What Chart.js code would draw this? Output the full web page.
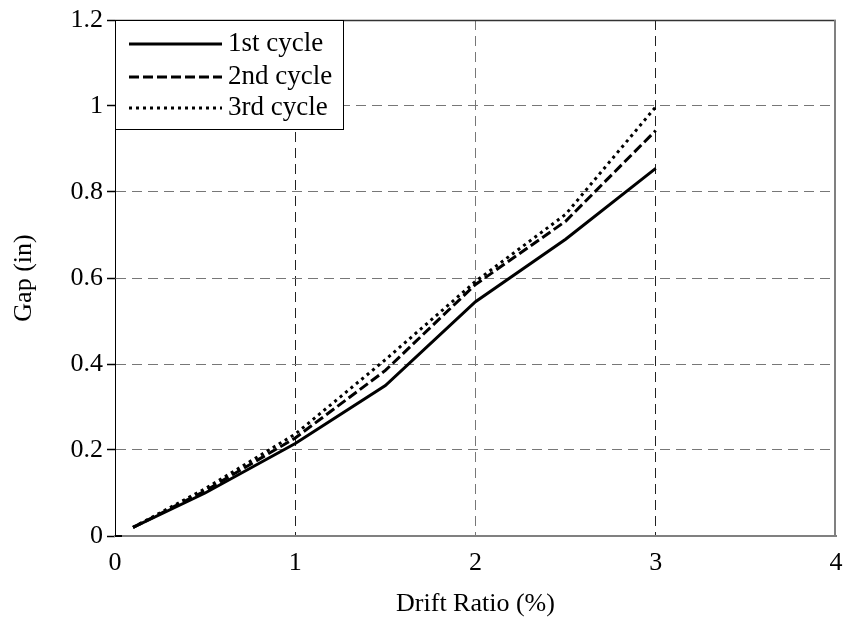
<!DOCTYPE html>
<html>
<head>
<meta charset="utf-8">
<script src="https://cdn.jsdelivr.net/npm/chart.js@4/dist/chart.umd.min.js"></script>
<style>
  html, body { margin: 0; padding: 0; background: #ffffff; }
  #c { display: block; }
</style>
</head>
<body>
<canvas id="c" width="846" height="636"></canvas>
<script>
// ---- data ----
const driftRatio = [0.1, 0.5, 1, 1.5, 2, 2.5, 3];
const cycle1 = [0.02, 0.100, 0.215, 0.350, 0.545, 0.690, 0.855];
const cycle2 = [0.02, 0.105, 0.228, 0.385, 0.585, 0.732, 0.943];
const cycle3 = [0.02, 0.110, 0.237, 0.410, 0.592, 0.748, 0.998];
const seriesNames = ['1st cycle', '2nd cycle', '3rd cycle'];
const xTicks = [0, 1, 2, 3, 4];
const yTicks = [0, 0.2, 0.4, 0.6, 0.8, 1, 1.2];
const yTickLabels = ['0', '0.2', '0.4', '0.6', '0.8', '1', '1.2'];
const xTitle = 'Drift Ratio (%)';
const yTitle = 'Gap (in)';

const FONT = 'Liberation Serif, Times New Roman, serif';
const toPts = (ys) => driftRatio.map((x, i) => ({ x: x, y: ys[i] }));

const dashes = [[], [10, 4], [3, 4]];
const seriesValues = [cycle1, cycle2, cycle3];

const datasets = seriesNames.map((name, i) => ({
  label: name,
  data: toPts(seriesValues[i]),
  borderColor: '#000',
  backgroundColor: '#000',
  borderWidth: 3,
  borderDash: dashes[i],
  borderCapStyle: 'butt',
  pointRadius: 0,
  tension: 0,
  fill: false
}));

const frameAndLegend = {
  id: 'frameAndLegend',
  afterDatasetsDraw(chart) {
    const ctx = chart.ctx;
    const a = chart.chartArea;
    ctx.save();
    // top border
    ctx.strokeStyle = '#333';
    ctx.lineWidth = 1.5;
    ctx.beginPath();
    ctx.moveTo(a.left, a.top + 0.5);
    ctx.lineTo(a.right, a.top + 0.5);
    ctx.stroke();
    // right border
    ctx.strokeStyle = '#808080';
    ctx.lineWidth = 2;
    ctx.beginPath();
    ctx.moveTo(a.right - 1, a.top);
    ctx.lineTo(a.right - 1, a.bottom);
    ctx.stroke();
    // short black tick into plot at y = 0
    const y0 = chart.scales.y.getPixelForValue(0);
    ctx.strokeStyle = '#000';
    ctx.lineWidth = 2;
    ctx.beginPath();
    ctx.moveTo(a.left, y0);
    ctx.lineTo(a.left + 7, y0);
    ctx.stroke();

    // legend box
    const bx = a.left, by = a.top, bw = 228, bh = 109;
    ctx.fillStyle = '#fff';
    ctx.fillRect(bx, by, bw, bh);
    ctx.strokeStyle = '#000';
    ctx.lineWidth = 1;
    ctx.strokeRect(bx + 0.5, by + 0.5, bw, bh);
    const rows = [44, 77, 108];
    chart.data.datasets.forEach((ds, i) => {
      const y = by + rows[i] - 20;
      ctx.strokeStyle = ds.borderColor;
      ctx.lineWidth = ds.borderWidth;
      ctx.setLineDash(ds.borderDash);
      ctx.lineCap = 'butt';
      ctx.beginPath();
      ctx.moveTo(bx + 14, y);
      ctx.lineTo(bx + 107, y);
      ctx.stroke();
      ctx.setLineDash([]);
      ctx.fillStyle = '#000';
      ctx.font = '27px ' + FONT;
      ctx.textAlign = 'left';
      ctx.textBaseline = 'middle';
      ctx.fillText(ds.label, bx + 113, y);
    });
    ctx.restore();
  }
};

new Chart(document.getElementById('c'), {
  type: 'line',
  data: { datasets: datasets },
  options: {
    responsive: false,
    animation: false,
    devicePixelRatio: 1,
    layout: { padding: { left: 0, top: 20, right: 10, bottom: 0 } },
    plugins: { legend: { display: false }, tooltip: { enabled: false } },
    scales: {
      x: {
        type: 'linear',
        min: xTicks[0],
        max: xTicks[xTicks.length - 1],
        afterBuildTicks: (s) => { s.ticks = xTicks.map(v => ({ value: v })); },
        afterFit: (s) => { s.height = 100; s.paddingLeft = 0; s.paddingRight = 0; },
        ticks: { color: '#000', font: { family: FONT, size: 26 }, padding: 12, maxRotation: 0,
                 callback: (v) => String(v) },
        grid: {
          drawTicks: false,
          lineWidth: 1,
          color: (c) => {
            const v = c.tick ? c.tick.value : null;
            if (v === xTicks[0] || v === xTicks[xTicks.length - 1]) return 'rgba(0,0,0,0)';
            return v === 2 ? '#777' : '#222';
          }
        },
        border: { display: true, color: '#808080', width: 2, dash: [10, 6] },
        title: { display: true, text: xTitle, color: '#000', font: { family: FONT, size: 26 }, padding: { top: 0, bottom: 16 } }
      },
      y: {
        type: 'linear',
        min: yTicks[0],
        max: yTicks[yTicks.length - 1],
        afterBuildTicks: (s) => { s.ticks = yTicks.map(v => ({ value: v })); },
        afterFit: (s) => { s.width = 115; s.paddingTop = 0; s.paddingBottom = 0; },
        ticks: { color: '#000', font: { family: FONT, size: 26 }, padding: 4,
                 callback: (v, i) => yTickLabels[i] },
        grid: {
          drawTicks: true,
          tickLength: 8,
          tickColor: '#000',
          tickBorderDash: [],
          tickWidth: 1.5,
          lineWidth: 1,
          color: (c) => {
            const v = c.tick ? c.tick.value : null;
            if (v === yTicks[0] || v === yTicks[yTicks.length - 1]) return 'rgba(0,0,0,0)';
            return '#777';
          }
        },
        border: { display: true, color: '#000', width: 1, dash: [10, 6] },
        title: { display: true, text: yTitle, color: '#000', font: { family: FONT, size: 26 }, padding: { top: 9, bottom: 0 } }
      }
    }
  },
  plugins: [frameAndLegend]
});
</script>
</body>
</html>
